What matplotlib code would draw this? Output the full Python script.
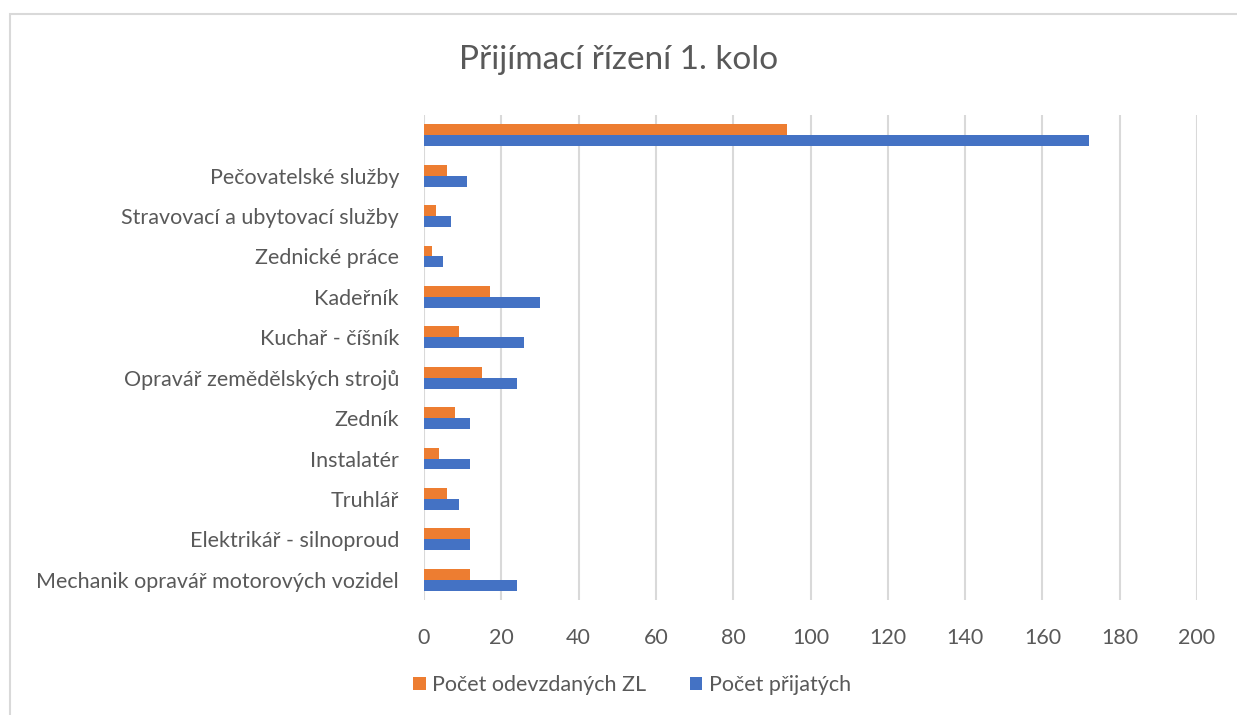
import numpy as np
import matplotlib
matplotlib.use("Agg")
import matplotlib.pyplot as plt
from matplotlib.patches import Rectangle

plt.rcParams['font.family'] = ['Lato', 'DejaVu Sans']

categories = ["Mechanik opravář motorových vozidel", "Elektrikář - silnoproud", "Truhlář",
              "Instalatér", "Zedník", "Opravář zemědělských strojů", "Kuchař - číšník",
              "Kadeřník", "Zednické práce", "Stravovací a ubytovací služby",
              "Pečovatelské služby", ""]
odevzdane = [12, 12, 6, 4, 8, 15, 9, 17, 2, 3, 6, 94]
prijate = [24, 12, 9, 12, 12, 24, 26, 30, 5, 7, 11, 172]
series_names = ["Počet odevzdaných ZL", "Počet přijatých"]
ticks = [0, 20, 40, 60, 80, 100, 120, 140, 160, 180, 200]

orange = "#ED7D31"
blue = "#4472C4"
text_col = "#595959"

fig = plt.figure(figsize=(12.37, 7.15), dpi=100)
fig.patches.append(Rectangle((10 / 1237, -0.01), 1.0, 1 - 14 / 715 + 0.01,
                             transform=fig.transFigure, fill=False,
                             edgecolor="#d9d9d9", linewidth=1.5))
ax = fig.add_axes([424 / 1237, 1 - 600 / 715, (1197 - 424) / 1237, 485 / 715])

y = np.arange(len(categories))
h = 0.27
ax.barh(y + h / 2, odevzdane, height=h, color=orange, label=series_names[0], zorder=3)
ax.barh(y - h / 2, prijate, height=h, color=blue, label=series_names[1], zorder=3)

ax.set_xlim(0, 200)
ax.set_ylim(-0.5, len(categories) - 0.5)
ax.set_xticks(ticks)
ax.set_yticks(y)
ax.set_yticklabels(categories, fontsize=15.9)
ax.tick_params(axis="both", length=0, labelsize=15.5, colors=text_col)
ax.tick_params(axis="x", pad=20)
ax.tick_params(axis="y", pad=18)
ax.grid(axis="x", color="#d9d9d9", linewidth=1.5, zorder=0)
for s in ax.spines.values():
    s.set_visible(False)

fig.text(0.5, 1 - 60 / 715, "Přijímací řízení 1. kolo", ha="center", va="center",
         fontsize=24, color=text_col)
fig.legend(loc="center", bbox_to_anchor=(632 / 1237, 1 - 685 / 715), ncol=2,
           frameon=False, fontsize=15.5, labelcolor=text_col, handlelength=0.6,
           handleheight=0.6, handletextpad=0.3, columnspacing=2.0)

fig.savefig("out.png", dpi=100)
